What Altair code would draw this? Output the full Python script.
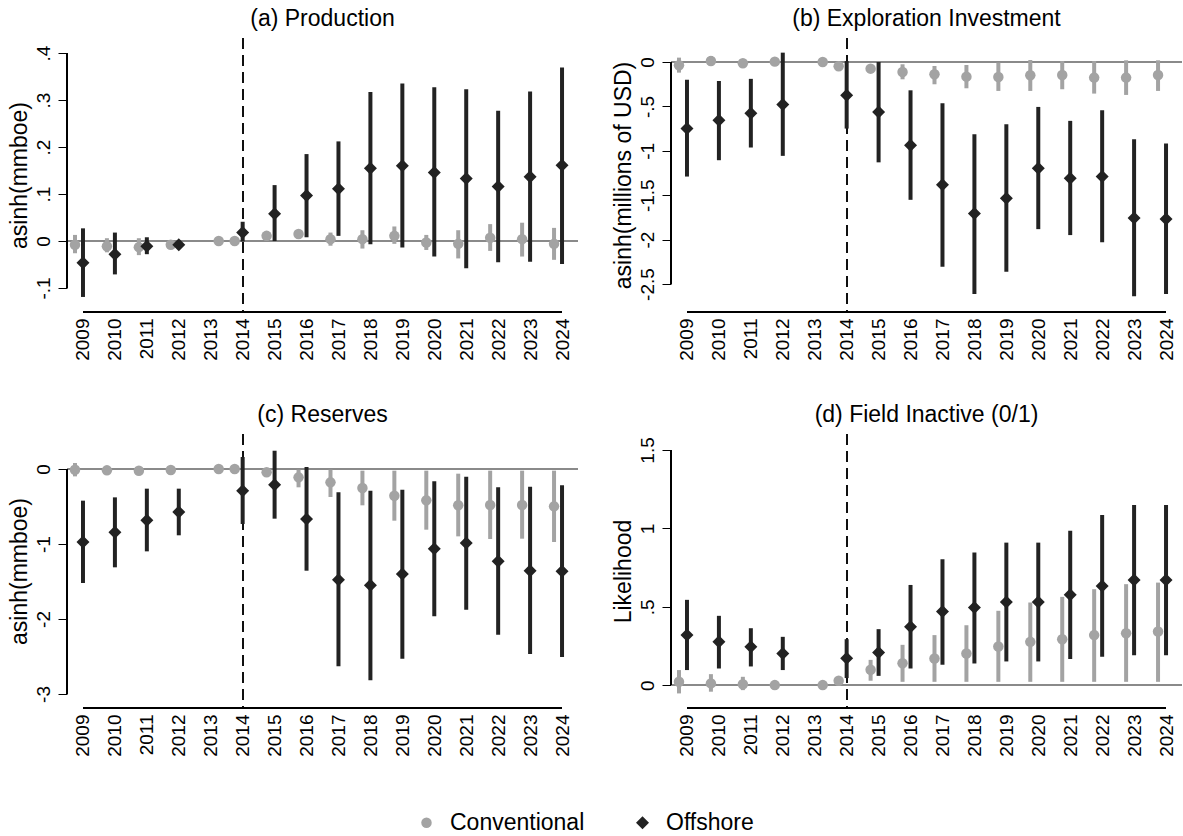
import altair as alt
import pandas as pd

YEARS = list(range(2009, 2025))
GROUPS = ["Conventional", "Offshore"]

# ---------------- (a) Production ----------------
PROD_CONV_EST = [-0.008, -0.011, -0.013, -0.008, 0.0, 0.0, 0.011, 0.015, 0.004, 0.004, 0.011, -0.003, -0.006, 0.007, 0.004, -0.006]
PROD_CONV_LO = [-0.026, -0.024, -0.030, -0.012, None, None, 0.008, 0.012, -0.010, -0.016, -0.006, -0.019, -0.037, -0.021, -0.033, -0.040]
PROD_CONV_HI = [0.013, 0.006, 0.006, -0.004, None, None, 0.014, 0.018, 0.018, 0.023, 0.031, 0.013, 0.023, 0.036, 0.039, 0.028]
PROD_OFF_EST = [-0.046, -0.028, -0.011, -0.008, None, 0.018, 0.058, 0.097, 0.111, 0.155, 0.160, 0.146, 0.133, 0.116, 0.137, 0.161]
PROD_OFF_LO = [-0.119, -0.071, -0.028, -0.011, None, -0.001, 0.0, 0.008, 0.011, -0.007, -0.014, -0.033, -0.058, -0.045, -0.044, -0.049]
PROD_OFF_HI = [0.027, 0.018, 0.008, -0.005, None, 0.041, 0.119, 0.185, 0.212, 0.317, 0.335, 0.327, 0.323, 0.277, 0.318, 0.369]

# ---------------- (b) Exploration Investment ----------------
EXPL_CONV_EST = [-0.037, 0.011, -0.015, 0.004, 0.0, -0.049, -0.075, -0.112, -0.139, -0.165, -0.169, -0.150, -0.146, -0.176, -0.176, -0.146]
EXPL_CONV_LO = [-0.120, -0.045, -0.035, -0.016, None, -0.069, -0.095, -0.195, -0.251, -0.296, -0.326, -0.326, -0.307, -0.356, -0.371, -0.326]
EXPL_CONV_HI = [0.049, 0.067, 0.005, 0.024, None, -0.029, -0.055, -0.026, -0.045, -0.034, -0.007, 0.022, 0.011, 0.011, 0.019, 0.019]
EXPL_OFF_EST = [-0.750, -0.656, -0.577, -0.480, None, -0.375, -0.562, -0.937, -1.383, -1.705, -1.533, -1.196, -1.308, -1.289, -1.758, -1.769]
EXPL_OFF_LO = [-1.290, -1.106, -0.963, -1.057, None, -0.750, -1.130, -1.552, -2.305, -2.612, -2.361, -1.882, -1.949, -2.031, -2.639, -2.612]
EXPL_OFF_HI = [-0.200, -0.214, -0.190, 0.105, None, 0.010, 0.000, -0.319, -0.465, -0.813, -0.700, -0.506, -0.663, -0.543, -0.870, -0.918]

# ---------------- (c) Reserves ----------------
RES_CONV_EST = [-0.009, -0.018, -0.022, -0.013, 0.0, 0.0, -0.044, -0.111, -0.178, -0.253, -0.356, -0.418, -0.484, -0.480, -0.480, -0.498]
RES_CONV_LO = [-0.098, -0.040, -0.040, -0.030, None, None, -0.070, -0.244, -0.373, -0.484, -0.689, -0.809, -0.898, -0.933, -0.929, -0.973]
RES_CONV_HI = [0.080, 0.004, 0.000, 0.004, None, None, -0.020, -0.009, -0.009, -0.022, -0.022, -0.022, -0.062, -0.022, -0.022, -0.022]
RES_OFF_EST = [-0.973, -0.844, -0.684, -0.573, None, -0.289, -0.209, -0.667, -1.476, -1.551, -1.400, -1.062, -0.987, -1.231, -1.356, -1.364]
RES_OFF_LO = [-1.520, -1.311, -1.098, -0.884, None, -0.733, -0.662, -1.356, -2.631, -2.818, -2.529, -1.964, -1.876, -2.209, -2.467, -2.507]
RES_OFF_HI = [-0.422, -0.378, -0.262, -0.262, None, 0.160, 0.244, 0.027, -0.311, -0.289, -0.276, -0.164, -0.102, -0.244, -0.236, -0.218]

# ---------------- (d) Field Inactive (0/1) ----------------
INA_CONV_EST = [0.021, 0.011, 0.006, 0.000, 0.0, 0.028, 0.098, 0.140, 0.170, 0.202, 0.246, 0.276, 0.293, 0.319, 0.331, 0.342]
INA_CONV_LO = [-0.053, -0.042, -0.032, -0.005, None, 0.020, 0.028, 0.021, 0.021, 0.021, 0.021, 0.021, 0.021, 0.021, 0.021, 0.021]
INA_CONV_HI = [0.096, 0.070, 0.053, 0.005, None, 0.036, 0.161, 0.257, 0.319, 0.382, 0.474, 0.527, 0.563, 0.612, 0.644, 0.654]
INA_OFF_EST = [0.319, 0.276, 0.244, 0.202, None, 0.172, 0.208, 0.372, 0.470, 0.495, 0.531, 0.531, 0.576, 0.633, 0.671, 0.671]
INA_OFF_LO = [0.096, 0.106, 0.119, 0.096, None, 0.045, 0.059, 0.106, 0.130, 0.138, 0.151, 0.151, 0.166, 0.181, 0.191, 0.191]
INA_OFF_HI = [0.544, 0.442, 0.363, 0.308, None, 0.293, 0.357, 0.639, 0.803, 0.846, 0.909, 0.909, 0.984, 1.086, 1.149, 1.149]

FONT = "Liberation Sans"
W, H = 511, 274
XDOM = [2008.5, 2024.5]
TREAT_YEAR = 2014
CONV_COLOR = "#a3a3a3"
OFF_COLOR = "#222222"
ZERO_COLOR = "#8a8a8a"
TICK_FS = 19


def xscale():
    return alt.Scale(domain=XDOM, nice=False, zero=False)


def panel(title, ytitle, yticks, ydom, conv, off):
    rows = []
    for i, yr in enumerate(YEARS):
        shift = 0.25 if yr == 2013 else -0.25
        rows.append(dict(year=yr, xpos=yr + shift, group="Conventional",
                         est=conv[0][i], lo=conv[1][i], hi=conv[2][i]))
        rows.append(dict(year=yr, xpos=yr, group="Offshore",
                         est=off[0][i], lo=off[1][i], hi=off[2][i]))
    df = pd.DataFrame(rows)

    def yscale():
        return alt.Scale(domain=ydom, nice=False, zero=False)

    def xaxis():
        return alt.Axis(values=YEARS, format="d", labelAngle=270, labelAlign="right",
                        labelBaseline="middle", labelPadding=6, ticks=False, domain=False,
                        grid=False, title=None, labelFontSize=TICK_FS, labelFont=FONT,
                        labelColor="black", labelOverlap=False, labelBound=False,
                        labelFlush=False)

    def yaxis():
        return alt.Axis(values=yticks, labelExpr="replace(datum.value + '', '0.', '.')",
                        labelAngle=270, labelAlign="center", labelBaseline="bottom",
                        tickSize=9, tickColor="black", tickWidth=1, labelPadding=5,
                        domain=False, grid=False, title=ytitle, titleAngle=270,
                        titleX=-48, titleY=H / 2, titleAlign="center",
                        titleBaseline="middle", titleFontSize=23, titleFontWeight="normal",
                        titleFont=FONT, titleColor="black", labelFontSize=TICK_FS,
                        labelColor="black", labelFont=FONT, labelOverlap=False,
                        labelFlush=False)

    base = alt.Chart(df)

    zero = base.mark_rule(color=ZERO_COLOR, strokeWidth=2).encode(
        y=alt.YDatum(0, scale=yscale(), type="quantitative", axis=yaxis())
    )
    dashed = base.mark_rule(color="#111111", strokeWidth=1.2, strokeDash=[11, 6]).encode(
        x=alt.XDatum(TREAT_YEAR, scale=xscale(), type="quantitative", axis=xaxis())
    )
    yline = base.mark_rule(color="black", strokeWidth=1.2).encode(
        x=alt.XDatum(XDOM[0], scale=xscale(), type="quantitative", axis=xaxis()),
        y=alt.YDatum(min(yticks), scale=yscale(), type="quantitative", axis=yaxis()),
        y2=alt.Y2Datum(max(yticks)),
    )
    xline = base.mark_rule(color="black", strokeWidth=1.2).encode(
        x=alt.XDatum(YEARS[0], scale=xscale(), type="quantitative", axis=xaxis()),
        x2=alt.X2Datum(YEARS[-1]),
        y=alt.YDatum(ydom[0], scale=yscale(), type="quantitative", axis=yaxis()),
    )

    def bars(group, color):
        return base.transform_filter(
            f"datum.group == '{group}' && isValid(datum.lo)"
        ).mark_rule(color=color, strokeWidth=4).encode(
            x=alt.X("xpos:Q", scale=xscale(), axis=xaxis()),
            y=alt.Y("lo:Q", scale=yscale(), axis=yaxis()),
            y2="hi:Q",
        )

    leg = alt.Legend(title=None, orient="none", legendX=348, legendY=773,
                     direction="horizontal", labelFontSize=23, labelFont=FONT,
                     labelColor="black", symbolSize=110, symbolStrokeWidth=0,
                     columnPadding=46, labelOffset=12, padding=0, symbolOpacity=1)

    points = base.transform_filter("isValid(datum.est)").mark_point(
        filled=True, opacity=1
    ).encode(
        x=alt.X("xpos:Q", scale=xscale(), axis=xaxis()),
        y=alt.Y("est:Q", scale=yscale(), axis=yaxis()),
        color=alt.Color("group:N", scale=alt.Scale(domain=GROUPS, range=[CONV_COLOR, OFF_COLOR]), legend=leg),
        shape=alt.Shape("group:N", scale=alt.Scale(domain=GROUPS, range=["circle", "diamond"]), legend=leg),
        size=alt.Size("group:N", scale=alt.Scale(domain=GROUPS, range=[110, 169]), legend=None),
    )

    return alt.layer(
        zero, dashed, yline, xline,
        bars("Conventional", CONV_COLOR), bars("Offshore", OFF_COLOR), points
    ).properties(
        width=W, height=H,
        title=alt.TitleParams(text=title, fontSize=23, font=FONT, fontWeight="normal",
                              anchor="middle", offset=6, color="black"),
    )


pa = panel("(a) Production", "asinh(mmboe)", [-0.1, 0, 0.1, 0.2, 0.3, 0.4], [-0.151, 0.432],
           (PROD_CONV_EST, PROD_CONV_LO, PROD_CONV_HI), (PROD_OFF_EST, PROD_OFF_LO, PROD_OFF_HI))
pb = panel("(b) Exploration Investment", "asinh(millions of USD)", [-2.5, -2, -1.5, -1, -0.5, 0], [-2.815, 0.27],
           (EXPL_CONV_EST, EXPL_CONV_LO, EXPL_CONV_HI), (EXPL_OFF_EST, EXPL_OFF_LO, EXPL_OFF_HI))
pc = panel("(c) Reserves", "asinh(mmboe)", [-3, -2, -1, 0], [-3.187, 0.467],
           (RES_CONV_EST, RES_CONV_LO, RES_CONV_HI), (RES_OFF_EST, RES_OFF_LO, RES_OFF_HI))
pd_ = panel("(d) Field Inactive (0/1)", "Likelihood", [0, 0.5, 1, 1.5], [-0.146, 1.602],
            (INA_CONV_EST, INA_CONV_LO, INA_CONV_HI), (INA_OFF_EST, INA_OFF_LO, INA_OFF_HI))

chart = alt.concat(
    pa, pb, pc, pd_, columns=2,
    spacing=alt.RowColnumber(row=122, column=93), bounds="flush",
).resolve_scale(
    x="independent", y="independent", color="shared", shape="shared", size="shared"
).properties(
    padding={"left": 8, "top": 8, "right": 0, "bottom": 0},
    background="white",
).configure_view(strokeWidth=0, stroke="transparent")

chart.save("out.html", embed_options={"renderer": "svg", "actions": False})
